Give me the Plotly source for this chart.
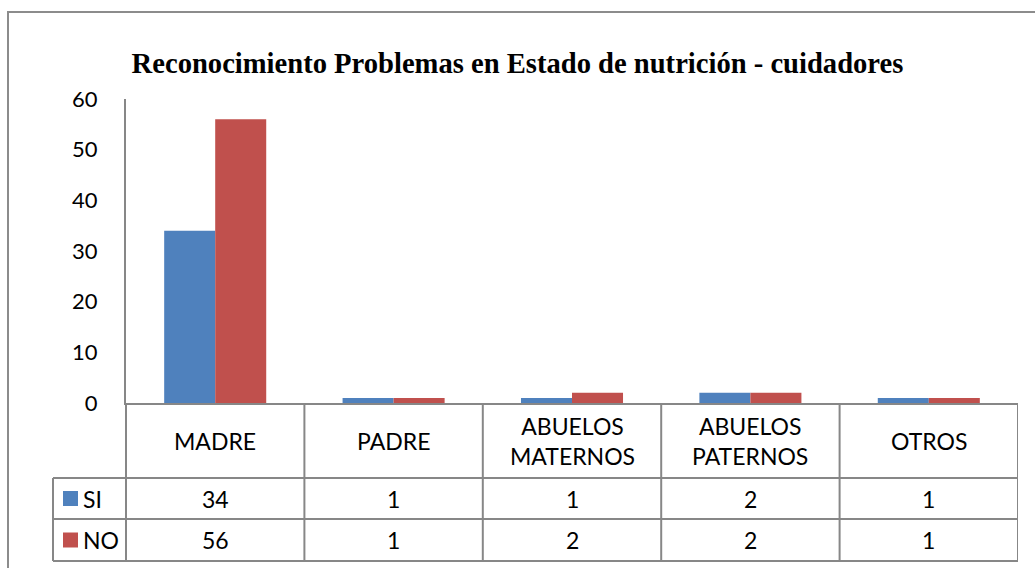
import plotly.graph_objects as go

categorias = ['MADRE', 'PADRE', 'ABUELOS MATERNOS', 'ABUELOS PATERNOS', 'OTROS']
etiquetas = ['MADRE', 'PADRE', 'ABUELOS<br>MATERNOS', 'ABUELOS<br>PATERNOS', 'OTROS']
si = [34, 1, 1, 2, 1]
no = [56, 1, 2, 2, 1]
series = [('SI', si, '#4F81BD'), ('NO', no, '#C0504D')]

W, H = 1035, 568
L, R, T, B = 126, 1018, 99, 403   # plot area in pixels
GRIS = '#878787'
FUENTE = 'Lato'
TAM = 23


def px(x):
    return (x - L) / (R - L)


def py(y):
    return (B - y) / (B - T)


fig = go.Figure()
for nombre, valores, color in series:
    fig.add_trace(go.Bar(x=categorias, y=valores, name=nombre, marker_color=color,
                         marker_line_width=0, showlegend=False))

shapes = []
annotations = []

# marco exterior
shapes.append(dict(type='rect', xref='paper', yref='paper', x0=px(8), x1=px(1040), y0=py(580), y1=py(12),
                   line=dict(color='#8c8c8c', width=2)))

# tabla de datos
filas = [478, 519, 561]
izq = 53
shapes.append(dict(type='line', xref='paper', yref='paper', x0=px(L), x1=px(L), y0=py(B), y1=py(filas[-1]),
                   line=dict(color=GRIS, width=2)))
for yy in filas:
    shapes.append(dict(type='line', xref='paper', yref='paper', x0=px(izq), x1=px(R), y0=py(yy), y1=py(yy),
                       line=dict(color=GRIS, width=2)))
shapes.append(dict(type='line', xref='paper', yref='paper', x0=px(izq), x1=px(izq), y0=py(filas[0]),
                   y1=py(filas[-1]), line=dict(color=GRIS, width=2)))
for i in range(len(categorias)):
    shapes.append(dict(type='line', xref='x', yref='paper', x0=i + 0.5, x1=i + 0.5, y0=py(B), y1=py(filas[-1]),
                       line=dict(color=GRIS, width=2)))

for cat, etq in zip(categorias, etiquetas):
    annotations.append(dict(x=cat, y=py((B + filas[0]) / 2), xref='x', yref='paper', text=etq, showarrow=False,
                            font=dict(family=FUENTE, size=TAM, color='black'), yanchor='middle'))

for k, (nombre, valores, color) in enumerate(series):
    yc = (filas[k] + filas[k + 1]) / 2
    shapes.append(dict(type='rect', xref='paper', yref='paper', x0=px(63), x1=px(78), y0=py(yc + 7.5),
                       y1=py(yc - 7.5), fillcolor=color, line=dict(width=0)))
    annotations.append(dict(x=px(81), y=py(yc), xref='paper', yref='paper', text=nombre, showarrow=False,
                            xanchor='left', yanchor='middle', font=dict(family=FUENTE, size=TAM, color='black')))
    for cat, v in zip(categorias, valores):
        annotations.append(dict(x=cat, y=py(yc), xref='x', yref='paper', text=str(v), showarrow=False,
                                yanchor='middle', font=dict(family=FUENTE, size=TAM, color='black')))

fig.update_layout(
    width=W, height=H,
    margin=dict(l=L, r=W - R, t=T, b=H - B),
    paper_bgcolor='white', plot_bgcolor='white',
    barmode='group', bargap=0.428, bargroupgap=0,
    title=dict(text='<b>Reconocimiento Problemas en Estado de nutrición - cuidadores</b>',
               x=0.5, xanchor='center', y=1 - 63 / H, yanchor='middle',
               font=dict(family='Liberation Serif', size=28.6, color='black')),
    xaxis=dict(showticklabels=False, ticks='', showgrid=False, showline=True, linecolor=GRIS, linewidth=2,
               range=[-0.5, 4.5], zeroline=False, fixedrange=True),
    yaxis=dict(range=[0, 60], dtick=10, showgrid=False, zeroline=False, showline=True, linecolor=GRIS,
               linewidth=2, ticks='', ticklabelstandoff=22,
               tickfont=dict(family=FUENTE, size=22, color='black')),
    shapes=shapes,
    annotations=annotations,
)

fig.write_html('out.html', config={'displayModeBar': False},
               post_script="document.body.style.margin='0px';")
